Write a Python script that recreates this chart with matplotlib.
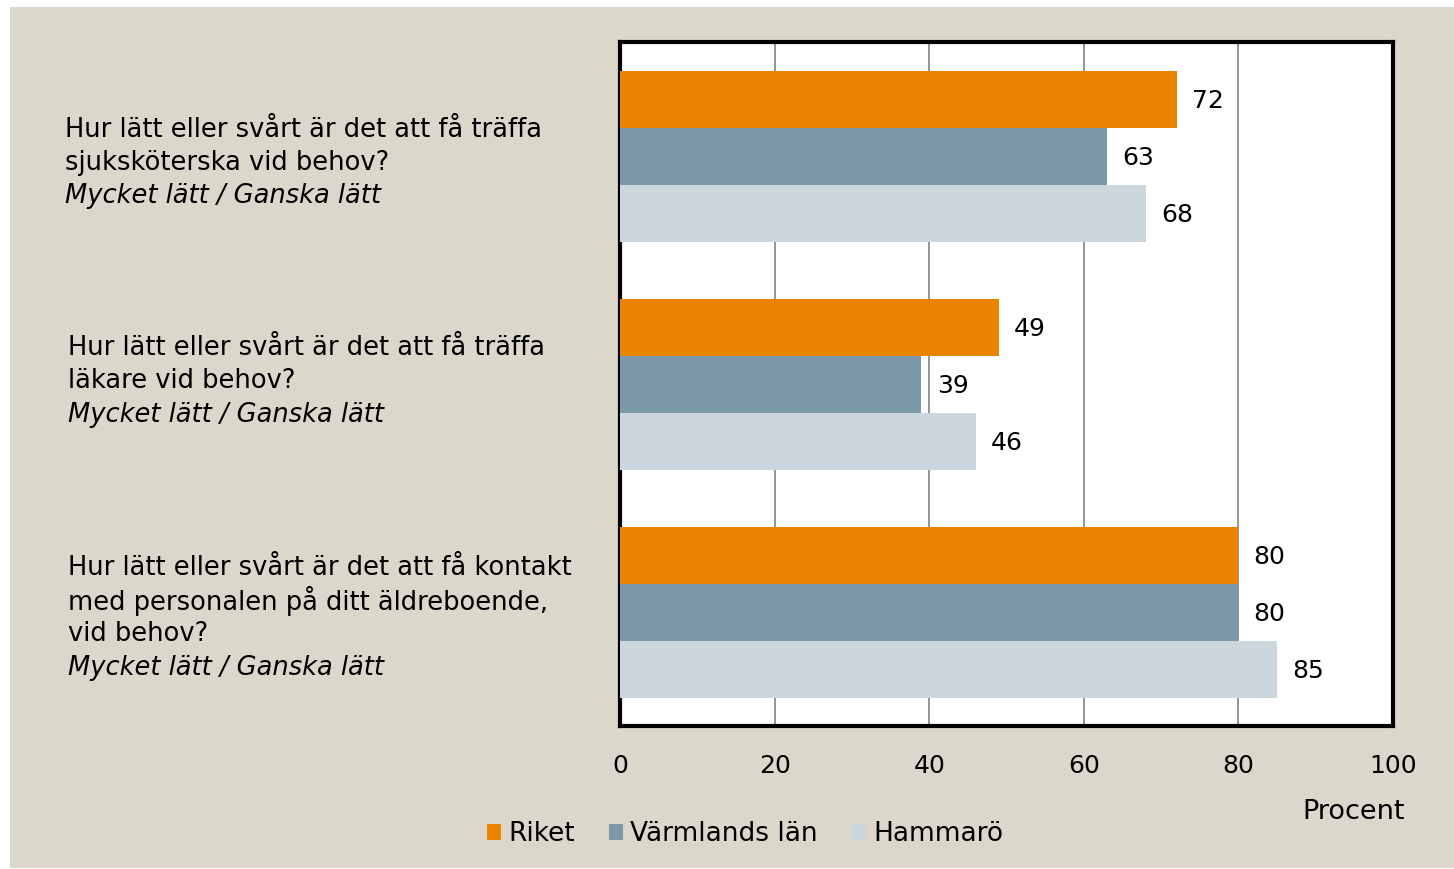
import matplotlib
matplotlib.use('Agg')
import matplotlib.pyplot as plt
import matplotlib.transforms as mtransforms
from matplotlib.patches import Rectangle

# Data
questions = [
    ['Hur lätt eller svårt är det att få träffa', 'sjuksköterska vid behov?'],
    ['Hur lätt eller svårt är det att få träffa', 'läkare vid behov?'],
    ['Hur lätt eller svårt är det att få kontakt', 'med personalen på ditt äldreboende,', 'vid behov?'],
]
subtitle = 'Mycket lätt / Ganska lätt'
series_names = ['Riket', 'Värmlands län', 'Hammarö']
riket = [72, 49, 80]
varmland = [63, 39, 80]
hammaro = [68, 46, 85]
xticks = [0, 20, 40, 60, 80, 100]

colors = ['#e98300', '#7b98a8', '#ccd7dd']
bg = '#dbd8cb'
plt.rcParams['font.family'] = ['DejaVu Sans']

fig = plt.figure(figsize=(14.54, 8.69), dpi=100, facecolor='white')
fig.patches.append(Rectangle((10 / 1454, 1 / 869), 1 - 10 / 1454, 1 - 8 / 869,
                             transform=fig.transFigure, facecolor=bg, edgecolor='none', zorder=-10))

ax = fig.add_axes([620 / 1454, 1 - 726 / 869, (1393 - 620) / 1454, (726 - 42) / 869])
ax.set_facecolor('white')

h = 0.25
for k, (vals, col, name) in enumerate(zip([riket, varmland, hammaro], colors, series_names)):
    ys = [i - h + k * h for i in range(len(vals))]
    ax.barh(ys, vals, height=h, color=col, label=name, zorder=3)
    for y, v in zip(ys, vals):
        ax.annotate(str(v), (v, y), xytext=(11, -1.5), textcoords='offset points',
                    va='center', ha='left', fontsize=18)

ax.set_xlim(0, 100)
ax.set_ylim(2.5, -0.5)
ax.set_xticks(xticks)
ax.set_yticks([])
ax.tick_params(axis='x', length=0, pad=20, labelsize=18)
ax.grid(axis='x', color='#8c8c8c', linewidth=1.3, zorder=1)
for s in ax.spines.values():
    s.set_linewidth(3)
    s.set_color('black')

# Category labels on the left
blend = mtransforms.blended_transform_factory(fig.transFigure, ax.transData)
xs = [65 / 1454, 68 / 1454, 68 / 1454]
nudge = [-5, 2, -4]  # small vertical shifts in points
line_pt = 24
for i, lines in enumerate(questions):
    all_lines = lines + [subtitle]
    n = len(all_lines)
    for j, line in enumerate(all_lines):
        off = ((n - 1) / 2 - j) * line_pt + nudge[i]
        tr = blend + mtransforms.ScaledTranslation(0, off / 72, fig.dpi_scale_trans)
        ax.text(xs[i], i, line, transform=tr, va='center', ha='left', fontsize=18.5,
                style='italic' if j == n - 1 else 'normal')

fig.text(1405 / 1454, 1 - 812 / 869, 'Procent', ha='right', va='center', fontsize=19.5)

fig.legend(loc='center', bbox_to_anchor=(745 / 1454, 1 - 834 / 869), ncol=3, frameon=False,
           fontsize=19, handlelength=0.55, handleheight=0.55, handletextpad=0.25, columnspacing=1.3)

fig.savefig('out.png', dpi=100, facecolor='white')
